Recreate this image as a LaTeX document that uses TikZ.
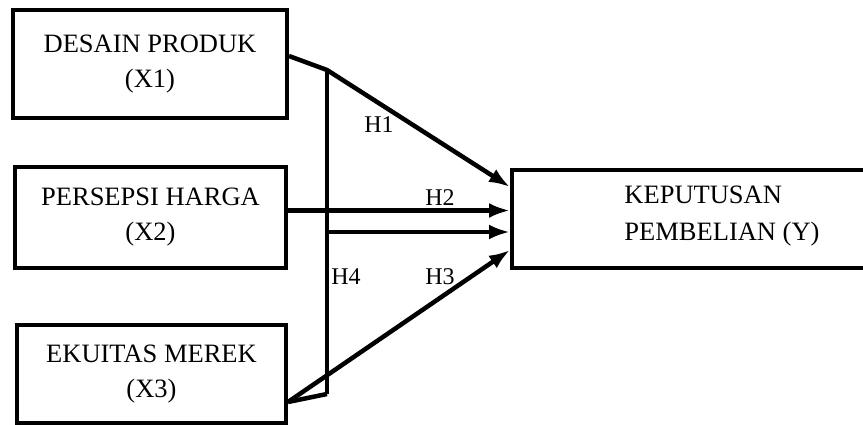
\documentclass[tikz,border=0pt]{standalone}
\usepackage{fontspec}
\setmainfont{Liberation Serif}
\usetikzlibrary{arrows.meta}

\begin{document}
\begin{tikzpicture}[x=1pt,y=-1pt,
  varbox/.style={draw,line width=4pt,align=center,inner sep=0pt,
    font=\fontsize{26.5}{35}\selectfont},
  link/.style={line width=4.5pt,-{Latex[length=21pt,width=15pt]}},
  plain/.style={line width=4.5pt},
  hyp/.style={font=\fontsize{24}{26}\selectfont,inner sep=1pt}]
\useasboundingbox (0,0) rectangle (863,425);
\node[varbox,minimum width=274pt,minimum height=108pt] (x1) at (150,64) {DESAIN PRODUK\\(X1)};
\node[varbox,minimum width=271pt,minimum height=101pt] (x2) at (150.5,217.5) {PERSEPSI HARGA\\(X2)};
\node[varbox,minimum width=269pt,minimum height=98pt] (x3) at (151.5,374) {EKUITAS MEREK\\(X3)};
\node[varbox,minimum width=370pt,minimum height=98pt] (y) at (697,219) {};
\node[align=left,inner sep=0pt,font=\fontsize{26.5}{37}\selectfont] (ytext) at (722,216) {KEPUTUSAN\\PEMBELIAN (Y)};
\node[hyp] (h1) at (379,125) {H1};
\node[hyp] (h2) at (440,198) {H2};
\node[hyp] (h4) at (346,277) {H4};
\node[hyp] (h3) at (440,277) {H3};
\coordinate (j1) at (327,70);
\coordinate (j2) at (327,232);
\coordinate (j3) at (327,394);
\coordinate (s1) at ([yshift=8pt]x1.east);
\coordinate (s2) at ([yshift=7pt]x2.east);
\coordinate (s3) at ([yshift=-28pt]x3.east);
\draw[link] (s1) -- (j1) -- ([yshift=32pt]y.west);
\draw[link] (s2) -- (s2 -| y.west);
\draw[plain] (j1) -- (j3);
\draw[link] (j2) -- (j2 -| y.west);
\draw[plain] (s3) -- (j3);
\draw[link] (s3) -- ([yshift=-31pt]y.west);
\end{tikzpicture}
\end{document}
